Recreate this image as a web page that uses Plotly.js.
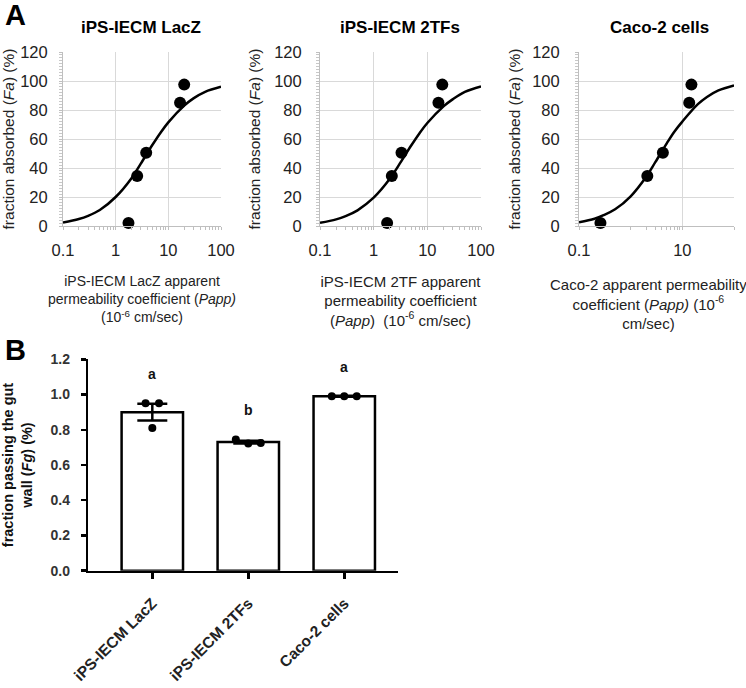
<!DOCTYPE html>
<html><head><meta charset="utf-8">
<script src="https://cdn.plot.ly/plotly-3.0.1.min.js"></script>
<style>html,body{margin:0;padding:0;background:#fff}#chart{width:746px;height:688px}</style>
</head><body><div id="chart"></div>
<script>
// ---- Panel A data ----
const fa = [2, 34.5, 50.5, 85, 97.5];                 // fraction absorbed (%)
const pappLacZ = [1.75, 2.56, 3.8, 16.7, 20];          // Papp, iPS-IECM LacZ
const papp2TF  = [1.78, 2.18, 3.3, 16.1, 19];          // Papp, iPS-IECM 2TFs
const pappCaco = [0.26, 2.1, 4.2, 13.6, 15];           // Papp, Caco-2
// fitted curves
const curveX     = [0.1, 0.2, 0.3, 0.5, 1, 2, 3, 5, 7, 10, 20, 30, 50, 100];
const curveLacZ  = [2.4, 4.8, 7, 11, 20, 33, 43, 56, 64, 71.5, 83, 88, 92.5, 96];
const curve2TF   = [2.2, 4.6, 6.8, 10.8, 19.5, 32.5, 42.5, 55.5, 63.5, 71, 82.5, 87.5, 92.5, 96.3];
const curveCaco  = [2.5, 5, 7.5, 11.5, 20.5, 34, 44, 57, 65, 72, 84, 89, 93.5, 97];
const panelTitles = ['iPS-IECM LacZ', 'iPS-IECM 2TFs', 'Caco-2 cells'];
const faTicks = [0, 20, 40, 60, 80, 100, 120];

// ---- Panel B data ----
const groups = ['iPS-IECM LacZ', 'iPS-IECM 2TFs', 'Caco-2 cells'];
const fgMean = [0.90, 0.73, 0.99];
const fgSem  = [0.047, 0.008, 0.003];
const fgRep  = [[0.95, 0.81, 0.95], [0.745, 0.722, 0.725], [0.99, 0.99, 0.99]];
const sigLetters = ['a', 'b', 'a'];

// ---- layout helpers ----
const W = 746, H = 688;
const dx = (a, b) => [a / W, b / W];
const dy = (top, bot) => [1 - bot / H, 1 - top / H];
const FONT = 'Liberation Sans, Arial, sans-serif';
const TXT = '#222';

const minorLog = [0.2,0.3,0.4,0.5,0.6,0.7,0.8,0.9,2,3,4,5,6,7,8,9,20,30,40,50,60,70,80,90];
const minorCaco = [1,2,3,4,5,6,7,8,9];

function aX(domain, tickvals, ticktext, minorVals, title, tsize, standoff) {
  return {
    domain, type: 'log', range: [-1, 2], tickmode: 'array', tickvals, ticktext,
    showgrid: true, gridcolor: '#d9d9d9', gridwidth: 1,
    showline: true, linecolor: '#bfbfbf', linewidth: 1, zeroline: false,
    ticks: 'outside', ticklen: 3, tickcolor: '#bfbfbf',
    minor: {tickmode: 'array', tickvals: minorVals, ticks: 'outside', ticklen: 3, tickcolor: '#bfbfbf', showgrid: false},
    tickfont: {family: FONT, size: 16.5, color: TXT}, ticklabelstandoff: 6,
    title: {text: title, font: {family: FONT, size: tsize, color: TXT}, standoff},
    fixedrange: true
  };
}
function aY(domain, anchor, standoff, lblOff) {
  return {
    domain, anchor, range: [0, 120], tickmode: 'array', tickvals: faTicks,
    showgrid: true, gridcolor: '#d9d9d9', gridwidth: 1,
    showline: true, linecolor: '#bfbfbf', linewidth: 1, zeroline: false,
    ticks: 'outside', ticklen: 3, tickcolor: '#bfbfbf',
    minor: {dtick: 2, ticks: 'outside', ticklen: 3, tickcolor: '#c8c8c8', showgrid: false},
    tickfont: {family: FONT, size: 16.5, color: TXT}, ticklabelstandoff: lblOff,
    title: {text: 'fraction absorbed (<i>Fa</i>) (%)', font: {family: FONT, size: 15.5, color: TXT}, standoff},
    fixedrange: true
  };
}

const traces = [];
const paps = [pappLacZ, papp2TF, pappCaco];
const curves = [curveLacZ, curve2TF, curveCaco];
for (let i = 0; i < 3; i++) {
  const sfx = i === 0 ? '' : String(i + 1);
  traces.push({x: curveX, y: curves[i], xaxis: 'x' + sfx, yaxis: 'y' + sfx, type: 'scatter', mode: 'lines',
    line: {color: '#000', width: 2.5, shape: 'spline'}, hoverinfo: 'skip', cliponaxis: false});
  traces.push({x: paps[i], y: fa, xaxis: 'x' + sfx, yaxis: 'y' + sfx, type: 'scatter', mode: 'markers',
    marker: {color: '#000', size: 12}, cliponaxis: false});
}
// Panel B bars
const catX = groups.map((g, i) => i);
traces.push({x: catX, y: fgMean, xaxis: 'x4', yaxis: 'y4', type: 'bar', width: 0.64,
  marker: {color: '#fff', line: {color: '#000', width: 2.5}},
  error_y: {type: 'data', array: fgSem, visible: true, color: '#000', thickness: 2.5, width: 15}});
const jitter = [[-0.07, 0, 0.07], [-0.13, 0, 0.13], [-0.13, 0, 0.13]];
const dotX = [], dotY = [];
fgRep.forEach((reps, g) => reps.forEach((v, k) => { dotX.push(g + jitter[g][k]); dotY.push(v); }));
traces.push({x: dotX, y: dotY, xaxis: 'x4', yaxis: 'y4', type: 'scatter', mode: 'markers',
  marker: {color: '#000', size: 8}, cliponaxis: false});

const annotations = [];
const titleX = [141, 400, 659];
panelTitles.forEach((t, i) => annotations.push({text: '<b>' + t + '</b>', xref: 'paper', yref: 'paper',
  x: titleX[i] / W, y: 1 - 28 / H, xanchor: 'center', yanchor: 'middle', showarrow: false,
  font: {family: FONT, size: 17, color: '#000'}}));
annotations.push({text: '<b>A</b>', xref: 'paper', yref: 'paper', x: 3 / W, y: 1 - 15 / H, xanchor: 'left', yanchor: 'middle',
  showarrow: false, font: {family: FONT, size: 29, color: '#000'}});
annotations.push({text: '<b>B</b>', xref: 'paper', yref: 'paper', x: 3 / W, y: 1 - 350 / H, xanchor: 'left', yanchor: 'middle',
  showarrow: false, font: {family: FONT, size: 29, color: '#000'}});
// Caco-2 x-axis title (shifted left of the axis centre, as in the original)
annotations.push({text: 'Caco-2 apparent permeability<br>coefficient (<i>Papp)</i> (10<sup>-6</sup><br>cm/sec)',
  xref: 'paper', yref: 'paper', x: 648 / W, y: 1 - 274 / H, xanchor: 'center', yanchor: 'top', align: 'center',
  showarrow: false, font: {family: FONT, size: 15, color: TXT}});
sigLetters.forEach((l, g) => {
  const top = Math.max(fgMean[g] + fgSem[g], ...fgRep[g]);
  annotations.push({text: '<b>' + l + '</b>', xref: 'x4', yref: 'y4', x: g, y: top, yshift: 29,
    xanchor: 'center', yanchor: 'middle', showarrow: false, font: {family: FONT, size: 14, color: '#111'}});
});

const layout = {
  width: W, height: H, margin: {l: 0, r: 0, t: 0, b: 0}, showlegend: false,
  paper_bgcolor: '#fff', plot_bgcolor: '#fff', font: {family: FONT},
  xaxis:  aX(dx(63, 221), [0.1, 1, 10, 100], ['0.1', '1', '10', '100'], minorLog,
    'iPS-IECM LacZ apparent<br>permeability coefficient (<i>Papp)</i><br>(10<sup>-6</sup> cm/sec)', 14, 18),
  yaxis:  aY(dy(52, 226), 'x', 5, 8),
  xaxis2: aX(dx(320, 481), [0.1, 1, 10, 100], ['0.1', '1', '10', '100'], minorLog,
    'iPS-IECM 2TF apparent<br>permeability coefficient<br>(<i>Papp</i>)&nbsp; (10<sup>-6</sup> cm/sec)', 15, 18),
  yaxis2: aY(dy(52, 226), 'x2', 9, 11),
  xaxis3: aX(dx(579, 734), [0.1, 10, 100], ['0.1', '10', ' '], minorCaco, '', 15, 18),
  yaxis3: aY(dy(52, 226), 'x3', 7, 12),
  xaxis4: {domain: dx(88.3, 398), anchor: 'y4', range: [-0.667, 2.56], tickmode: 'array', tickvals: catX, ticktext: groups,
    tickangle: -45, showline: true, linecolor: '#000', linewidth: 2.5, zeroline: false, showgrid: false,
    ticks: 'outside', ticklen: 6, tickwidth: 2.5, tickcolor: '#000', ticklabelstandoff: 9,
    tickfont: {family: FONT, size: 15.5, color: '#222', weight: 'bold'}, fixedrange: true},
  yaxis4: {domain: dy(359.3, 570.7), anchor: 'x4', range: [0, 1.2], tickmode: 'linear', tick0: 0, dtick: 0.2, tickformat: '.1f',
    showline: true, linecolor: '#000', linewidth: 2.5, zeroline: false, showgrid: false,
    ticks: 'outside', ticklen: 5, tickwidth: 2.5, tickcolor: '#000', ticklabelstandoff: 8,
    tickfont: {family: FONT, size: 14, color: '#333', weight: 'bold'},
    title: {text: '<b>fraction passing the gut<br>wall (<i>Fg</i>) (%)</b>', font: {family: FONT, size: 14.5, color: '#111'}, standoff: 18},
    fixedrange: true},
  annotations
};
Plotly.newPlot('chart', traces, layout, {staticPlot: true, displayModeBar: false});
</script></body></html>
